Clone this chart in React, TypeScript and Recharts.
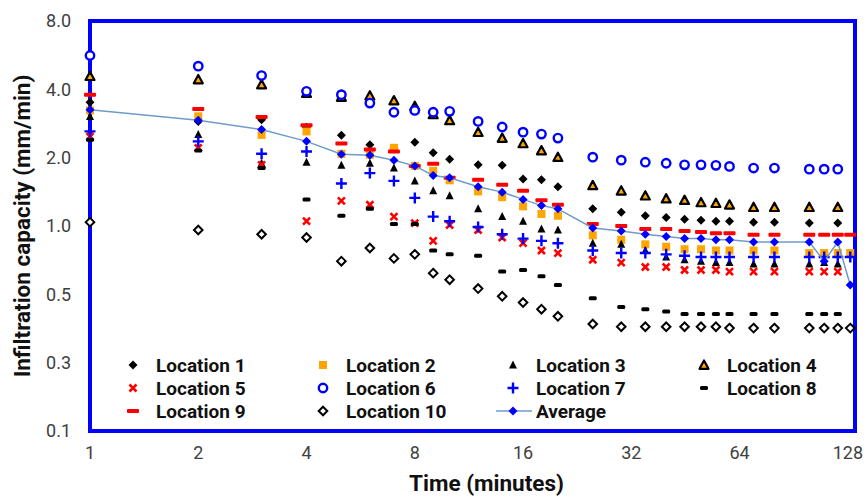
import React from "react"
import { ScatterChart, Scatter, XAxis, YAxis, ReferenceArea, Label } from "recharts"

// time of each reading (minutes)
const times = [1, 2, 3, 4, 5, 6, 7, 8, 9, 10, 12, 14, 16, 18, 20, 25, 30, 35, 40, 45, 50, 55, 60, 70, 80, 100, 110, 120, 130]

// infiltration capacity (mm/min) per location, null = no reading
const loc1 = [3.51, 2.89, 2.94, 2.72, 2.51, 2.28, 2.2, 2.34, 2.1, 1.97, 1.86, 1.85, 1.61, 1.6, 1.49, 1.19, 1.15, 1.11, 1.09, 1.07, 1.06, 1.05, 1.05, 1.04, 1.04, 1.03, null, 1.03, null]
const loc2 = [3.23, 3.04, 2.52, 2.61, 2.08, 2.06, 2.21, 1.84, 1.75, 1.59, 1.42, 1.34, 1.22, 1.13, 1.11, 0.91, 0.87, 0.83, 0.81, 0.79, 0.79, 0.78, 0.78, 0.78, 0.78, 0.76, 0.76, 0.76, 0.76]
const loc3 = [3.04, 2.53, 1.89, 1.91, 1.85, 1.89, 1.8, 1.58, 1.43, 1.36, 1.19, 1.1, 1.05, 0.97, 0.96, 0.84, 0.83, 0.78, 0.73, 0.71, 0.7, 0.69, 0.69, 0.68, 0.68, 0.68, 0.69, 0.68, null]
const loc4 = [4.57, 4.42, 4.2, 3.85, 3.7, 3.75, 3.57, 3.37, 3.1, 2.92, 2.59, 2.44, 2.31, 2.15, 2.01, 1.51, 1.43, 1.36, 1.32, 1.3, 1.27, 1.26, 1.24, 1.21, 1.21, 1.21, null, 1.21, null]
const loc5 = [2.48, 2.21, 1.86, 1.05, 1.29, 1.24, 1.1, 1.03, 0.86, 1.01, 0.96, 0.89, 0.84, 0.78, 0.76, 0.71, 0.69, 0.66, 0.66, 0.64, 0.64, 0.64, 0.63, 0.63, 0.63, 0.63, 0.63, 0.63, null]
const loc6 = [5.64, 5.06, 4.6, 3.92, 3.79, 3.48, 3.17, 3.23, 3.17, 3.2, 2.89, 2.73, 2.59, 2.54, 2.44, 2.01, 1.95, 1.91, 1.89, 1.86, 1.86, 1.85, 1.83, 1.8, 1.8, 1.78, 1.78, 1.78, null]
const loc7 = [2.61, 2.36, 2.08, 2.13, 1.54, 1.71, 1.58, 1.33, 1.1, 1.05, 0.99, 0.92, 0.88, 0.86, 0.84, 0.78, 0.76, 0.76, 0.75, 0.74, 0.73, 0.73, 0.73, 0.73, 0.73, 0.73, 0.73, 0.73, 0.73]
const loc8 = [2.4, 2.15, 1.8, 1.31, 1.11, 1.19, 1.02, 1.02, 0.78, 0.75, 0.74, 0.63, 0.64, 0.6, 0.55, 0.48, 0.44, 0.43, 0.42, 0.41, 0.41, 0.41, 0.41, 0.41, 0.41, 0.41, 0.41, 0.41, null]
const loc9 = [3.79, 3.28, 3.02, 2.78, 2.31, 2.17, 2.13, 1.84, 1.88, 1.63, 1.6, 1.52, 1.43, 1.3, 1.24, 1.02, 1.0, 0.97, 0.97, 0.95, 0.94, 0.93, 0.93, 0.915, 0.915, 0.915, 0.915, 0.915, 0.915]
const loc10 = [1.04, 0.96, 0.92, 0.89, 0.7, 0.8, 0.72, 0.75, 0.62, 0.58, 0.53, 0.49, 0.46, 0.43, 0.4, 0.37, 0.36, 0.36, 0.36, 0.36, 0.36, 0.36, 0.355, 0.355, 0.355, 0.355, 0.355, 0.355, 0.355]
const average = [3.25, 2.92, 2.66, 2.36, 2.07, 2.05, 1.95, 1.84, 1.67, 1.63, 1.49, 1.41, 1.31, 1.23, 1.19, 0.98, 0.95, 0.92, 0.9, 0.88, 0.88, 0.87, 0.87, 0.85, 0.85, 0.85, 0.7, 0.85, 0.55]

const xTicks = [1, 2, 4, 8, 16, 32, 64, 128]
const yTicks = [0.125, 0.25, 0.5, 1, 2, 4, 8]

const FONT = "Roboto, 'Noto Sans', sans-serif"
const BLUE = "#0000FF"
const RED = "#FF0000"
const ORANGE = "#FFA500"

const toPoints = (vals: (number | null)[]) =>
  times.map((t, i) => ({ t, v: vals[i] })).filter((p) => p.v != null)

const diamond = (cx: number, cy: number, r: number) =>
  `M${cx},${cy - r}L${cx + r},${cy}L${cx},${cy + r}L${cx - r},${cy}Z`

// marker drawers, shared by the chart and the legend
const markers: Record<string, (cx: number, cy: number) => React.ReactElement> = {
  diamond: (cx, cy) => <path d={diamond(cx, cy, 4.5)} fill="#000" />,
  square: (cx, cy) => <rect x={cx - 4} y={cy - 4} width={8} height={8} fill={ORANGE} />,
  triangle: (cx, cy) => <path d={`M${cx},${cy - 4.5}L${cx + 4},${cy + 3.5}L${cx - 4},${cy + 3.5}Z`} fill="#000" />,
  triangleOrange: (cx, cy) => (
    <path d={`M${cx},${cy - 4.5}L${cx + 4.5},${cy + 3.8}L${cx - 4.5},${cy + 3.8}Z`} fill={ORANGE} stroke="#000" strokeWidth={2.2} strokeLinejoin="round" />
  ),
  cross: (cx, cy) => (
    <path d={`M${cx - 3.5},${cy - 3.5}L${cx + 3.5},${cy + 3.5}M${cx + 3.5},${cy - 3.5}L${cx - 3.5},${cy + 3.5}`} stroke={RED} strokeWidth={2.6} />
  ),
  circle: (cx, cy) => <circle cx={cx} cy={cy} r={4.2} fill="#fff" stroke={BLUE} strokeWidth={2.4} />,
  plus: (cx, cy) => (
    <path d={`M${cx - 5.5},${cy}L${cx + 5.5},${cy}M${cx},${cy - 5.5}L${cx},${cy + 5.5}`} stroke={BLUE} strokeWidth={2.4} />
  ),
  dashBlack: (cx, cy) => <rect x={cx - 4} y={cy - 2} width={8} height={4} rx={1.5} fill="#000" />,
  dashRed: (cx, cy) => <rect x={cx - 6} y={cy - 2} width={12} height={4} rx={1} fill={RED} />,
  diamondOpen: (cx, cy) => <path d={diamond(cx, cy, 4.3)} fill="#fff" stroke="#000" strokeWidth={2} />,
  avg: (cx, cy) => <path d={diamond(cx, cy, 4.5)} fill={BLUE} />,
}

const series = [
  { name: "Location 1", values: loc1, marker: "diamond" },
  { name: "Location 2", values: loc2, marker: "square" },
  { name: "Location 3", values: loc3, marker: "triangle" },
  { name: "Location 4", values: loc4, marker: "triangleOrange" },
  { name: "Location 5", values: loc5, marker: "cross" },
  { name: "Location 6", values: loc6, marker: "circle" },
  { name: "Location 7", values: loc7, marker: "plus" },
  { name: "Location 8", values: loc8, marker: "dashBlack" },
  { name: "Location 9", values: loc9, marker: "dashRed" },
  { name: "Location 10", values: loc10, marker: "diamondOpen" },
]

const legendCols = [133, 323, 513, 704]
const legendRows = [365, 388, 411]

function LegendOverlay() {
  const items = [...series.map((s) => ({ name: s.name, marker: s.marker })), { name: "Average", marker: "avg" }]
  return (
    <svg width={865} height={497} style={{ position: "absolute", left: 0, top: 0, pointerEvents: "none" }}>
      {items.map((it, i) => {
        const cx = legendCols[i % 4]
        const cy = legendRows[Math.floor(i / 4)]
        return (
          <g key={it.name}>
            {it.marker === "avg" && <line x1={cx - 17} x2={cx + 19} y1={cy} y2={cy} stroke="#6E9BCB" strokeWidth={1.5} />}
            {markers[it.marker](cx, cy)}
            <text x={cx + 23} y={cy + 7} fontFamily={FONT} fontSize={19} fontWeight="bold" fill="#111">
              {it.name}
            </text>
          </g>
        )
      })}
    </svg>
  )
}

export default function App() {
  return (
    <div style={{ position: "relative", width: 865, height: 497, background: "#fff" }}>
      <style>{`body{margin:0}`}</style>
      <ScatterChart width={865} height={497} margin={{ top: 21, right: 10, bottom: 6, left: 0 }}>
        <ReferenceArea x1={1} x2={134} y1={0.125} y2={8} fill="none" stroke={BLUE} strokeWidth={4} ifOverflow="visible" />
        <XAxis
          type="number"
          dataKey="t"
          scale="log"
          domain={[1, 134]}
          ticks={xTicks}
          height={60}
          axisLine={false}
          tickLine={false}
          tickMargin={9}
          tick={{ fontSize: 18, fill: "#404040", fontFamily: FONT }}
        >
          <Label value="Time (minutes)" position="insideBottom" offset={0} dx={14} style={{ fontSize: 22.5, fontWeight: "bold", fill: "#111", fontFamily: FONT }} />
        </XAxis>
        <YAxis
          type="number"
          dataKey="v"
          scale="log"
          domain={[0.125, 8]}
          ticks={yTicks}
          width={90}
          axisLine={false}
          tickLine={false}
          tickMargin={13}
          tickFormatter={(v: number) => v.toFixed(1)}
          tick={{ fontSize: 18, fill: "#404040", fontFamily: FONT }}
        >
          <Label
            value="Infiltration capacity (mm/min)"
            angle={-90}
            position="insideLeft"
            offset={22}
            style={{ fontSize: 22.5, fontWeight: "bold", fill: "#111", fontFamily: FONT, textAnchor: "middle" }}
          />
        </YAxis>
        {series.map((s) => (
          <Scatter
            key={s.name}
            name={s.name}
            data={toPoints(s.values)}
            isAnimationActive={false}
            shape={(p: any) => markers[s.marker](p.cx, p.cy)}
          />
        ))}
        <Scatter
          name="Average"
          data={toPoints(average)}
          line={{ stroke: "#6E9BCB", strokeWidth: 1.5 }}
          isAnimationActive={false}
          shape={(p: any) => markers.avg(p.cx, p.cy)}
        />
      </ScatterChart>
      <LegendOverlay />
    </div>
  )
}
